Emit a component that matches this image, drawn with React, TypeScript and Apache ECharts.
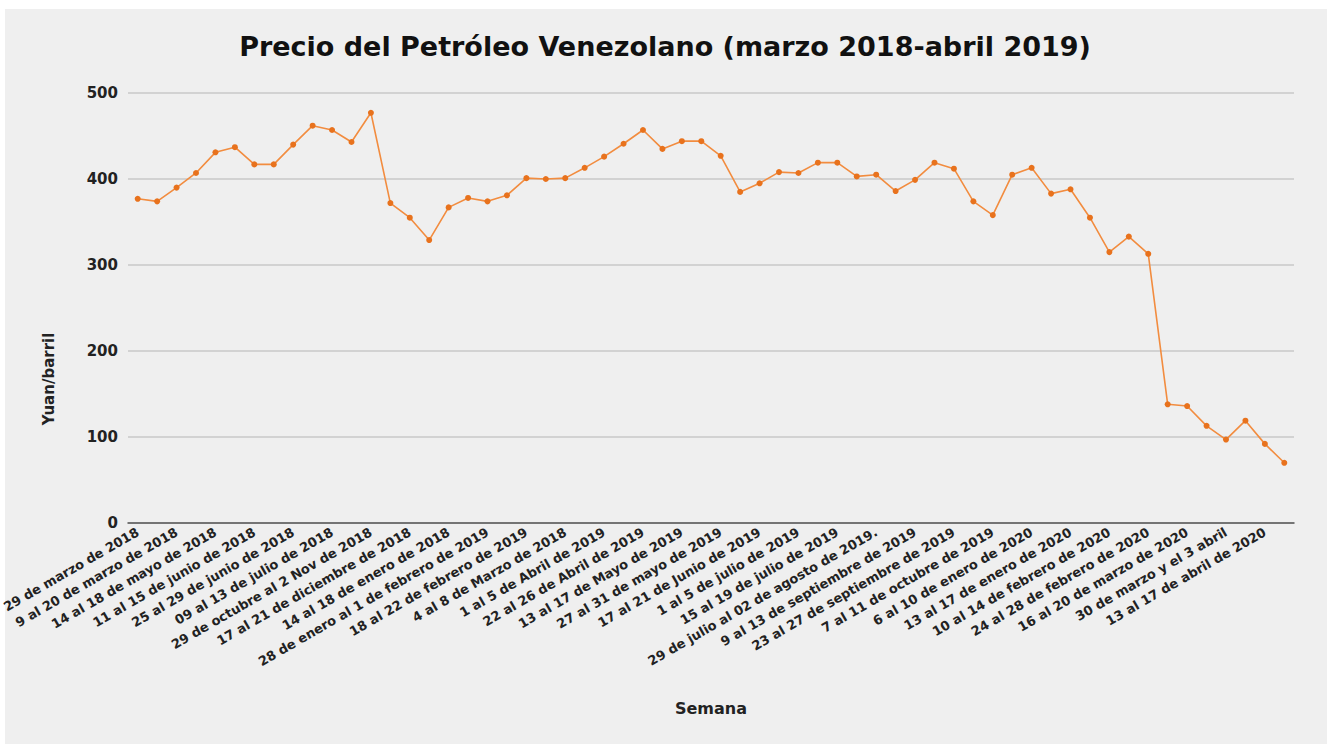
import React, { useEffect, useRef } from "react";
import * as echarts from "echarts";

const weekLabels: string[] = [
  "29 de marzo de 2018",
  "9 al 20 de marzo de 2018",
  "14 al 18 de mayo de 2018",
  "11 al 15 de junio de 2018",
  "25 al 29 de junio de 2018",
  "09 al 13 de julio de 2018",
  "29 de octubre al 2 Nov de 2018",
  "17 al 21 de diciembre de 2018",
  "14 al 18 de enero de 2018",
  "28 de enero al 1 de febrero de 2019",
  "18 al 22 de febrero de 2019",
  "4 al 8 de Marzo de 2018",
  "1 al 5 de Abril de 2019",
  "22 al 26 de Abril de 2019",
  "13 al 17 de Mayo de 2019",
  "27 al 31 de mayo de 2019",
  "17 al 21 de Junio de 2019",
  "1 al 5 de julio de 2019",
  "15 al 19 de julio de 2019",
  "29 de julio al 02 de agosto de 2019.",
  "9 al 13 de septiembre de 2019",
  "23 al 27 de septiembre de 2019",
  "7 al 11 de octubre de 2019",
  "6 al 10 de enero de 2020",
  "13 al 17 de enero de 2020",
  "10 al 14 de febrero de 2020",
  "24 al 28 de febrero de 2020",
  "16 al 20 de marzo de 2020",
  "30 de marzo y el 3 abril",
  "13 al 17 de abril de 2020",
];

// 60 weekly points; only every other week carries a label in the original
const categories: string[] = [];
weekLabels.forEach((l) => {
  categories.push(l);
  categories.push("");
});

const prices: number[] = [
  377, 374, 390, 407, 431, 437, 417, 417, 440, 462,
  457, 443, 477, 372, 355, 329, 367, 378, 374, 381,
  401, 400, 401, 413, 426, 441, 457, 435, 444, 444,
  427, 385, 395, 408, 407, 419, 419, 403, 405, 386,
  399, 419, 412, 374, 358, 405, 413, 383, 388, 355,
  315, 333, 313, 138, 136, 113, 97, 119, 92, 70,
];

const yTicks = { min: 0, max: 500, interval: 100 };

const FONT = "'DejaVu Sans', Verdana, sans-serif";

export default function App() {
  const ref = useRef<HTMLDivElement>(null);

  useEffect(() => {
    if (!ref.current) return;
    const chart = echarts.init(ref.current, null, { renderer: "svg" });
    chart.setOption({
      animation: false,
      backgroundColor: "transparent",
      title: {
        text: "Precio del Petróleo Venezolano (marzo 2018-abril 2019)",
        left: "center",
        top: 28,
        textStyle: {
          fontFamily: FONT,
          fontWeight: "bold",
          fontSize: 27,
          color: "#111",
        },
      },
      grid: {
        left: 128,
        right: 36,
        top: 93,
        bottom: 221,
        containLabel: false,
        outerBoundsMode: "none",
      },
      xAxis: {
        type: "category",
        data: categories,
        boundaryGap: true,
        name: "Semana",
        nameLocation: "middle",
        nameGap: 177,
        nameTextStyle: {
          fontFamily: FONT,
          fontWeight: "bold",
          fontSize: 16,
          color: "#222",
        },
        axisLine: { show: true, lineStyle: { color: "#555", width: 1.5 } },
        axisTick: { show: false },
        axisLabel: {
          interval: 0,
          rotate: 30,
          margin: 8,
          fontFamily: FONT,
          fontWeight: "bold",
          fontSize: 13,
          color: "#222",
        },
        splitLine: { show: false },
      },
      yAxis: {
        type: "value",
        min: yTicks.min,
        max: yTicks.max,
        interval: yTicks.interval,
        name: "Yuan/barril",
        nameLocation: "middle",
        nameGap: 72,
        nameTextStyle: {
          fontFamily: FONT,
          fontWeight: "bold",
          fontSize: 15,
          color: "#222",
          padding: [0, 142, 0, 0],
        },
        axisLine: { show: false },
        axisTick: { show: false },
        axisLabel: {
          margin: 10,
          fontFamily: FONT,
          fontWeight: "bold",
          fontSize: 15,
          color: "#222",
        },
        splitLine: { show: true, lineStyle: { color: "#c8c8c8", width: 1.5 } },
      },
      series: [
        {
          type: "line",
          data: prices,
          symbol: "circle",
          symbolSize: 6,
          showSymbol: true,
          lineStyle: { color: "#f28c3f", width: 1.6 },
          itemStyle: { color: "#e8721d" },
        },
      ],
    });
    return () => chart.dispose();
  }, []);

  return (
    <div
      style={{
        position: "absolute",
        left: 0,
        top: 0,
        width: 1330,
        height: 744,
        background: "#ffffff",
        overflow: "hidden",
      }}
    >
      <div
        style={{
          position: "absolute",
          left: 5,
          top: 9,
          width: 1322,
          height: 735,
          background: "#efefef",
        }}
      />
      <div
        ref={ref}
        style={{ position: "absolute", left: 0, top: 0, width: 1330, height: 744 }}
      />
    </div>
  );
}
